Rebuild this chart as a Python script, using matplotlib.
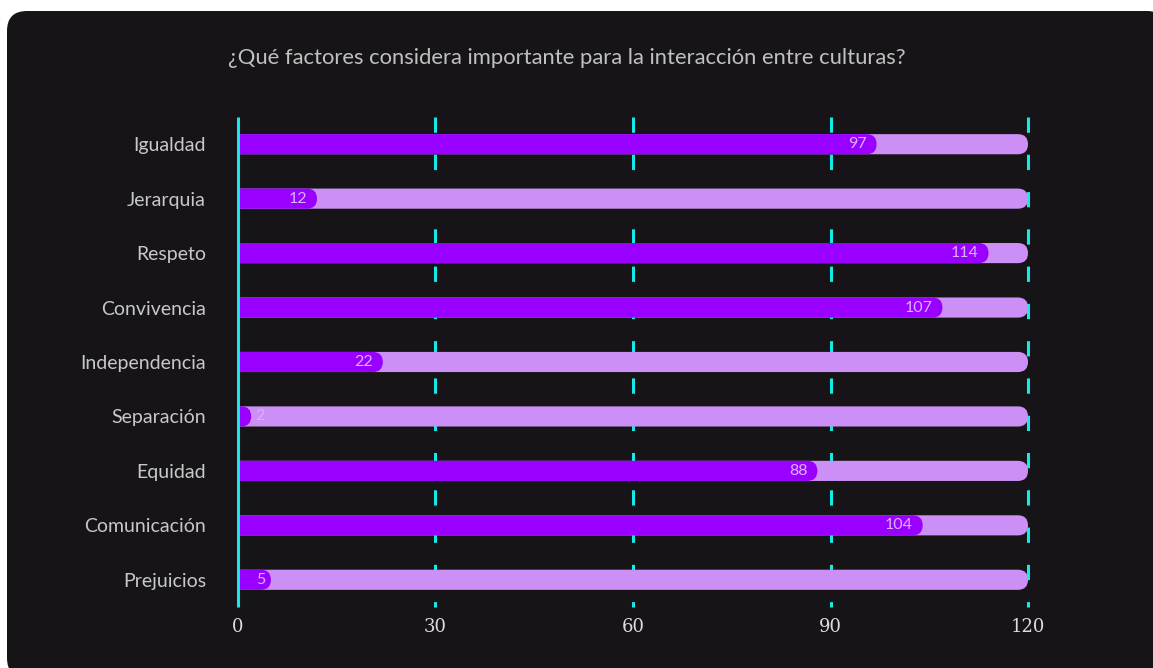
import matplotlib.pyplot as plt
from matplotlib.patches import FancyBboxPatch

# datos
categorias = ['Igualdad', 'Jerarquia', 'Respeto', 'Convivencia', 'Independencia',
              'Separación', 'Equidad', 'Comunicación', 'Prejuicios']
valores = [97, 12, 114, 107, 22, 2, 88, 104, 5]
maximo = 120
ticks = [0, 30, 60, 90, 120]
titulo = '¿Qué factores considera importante para la interacción entre culturas?'

fondo = '#161417'
morado = '#9900ff'
lila = '#cc8ff5'
cian = '#19e8e8'
texto = '#c8c8c8'
fuente = ['Lato', 'DejaVu Sans']

fig = plt.figure(figsize=(11.53, 6.68), dpi=100)
fig.patch.set_facecolor('white')

# tarjeta oscura con esquinas redondeadas (en pulgadas)
tarjeta = FancyBboxPatch((0.07, -0.10), 11.60, 6.67,
                         boxstyle='round,pad=0,rounding_size=0.2',
                         transform=fig.dpi_scale_trans, facecolor=fondo,
                         edgecolor='none', zorder=-5)
fig.patches.append(tarjeta)

ax = fig.add_axes([0.2064, 0.0913, 0.6852, 0.7336])
ax.set_zorder(2)
ax.set_facecolor('none')
ax.set_xlim(0, maximo)
ax.set_ylim(len(categorias) - 0.5, -0.5)
for s in ax.spines.values():
    s.set_visible(False)

# px por unidad, para que el redondeo salga circular
px_x = 0.6852 * 1153 / maximo
px_y = 0.7336 * 668 / len(categorias)
alto = 0.37
radio_px = alto * px_y / 2
radio_x = radio_px / px_x
aspecto = (radio_px / px_y) / radio_x

# lineas de guia discontinuas
for t in ticks[1:]:
    ax.vlines(t, -0.5, len(categorias) - 0.5, colors=cian, linewidth=2.2,
              linestyles=(0, (5.0, 7.2)), zorder=1, clip_on=False)

def barra(y, v, color, z):
    p = FancyBboxPatch((-radio_x, y - alto / 2), v + radio_x, alto,
                       boxstyle='round,pad=0,rounding_size=%f' % radio_x,
                       mutation_aspect=aspecto, facecolor=color,
                       edgecolor='none', zorder=z)
    ax.add_patch(p)

for i, v in enumerate(valores):
    barra(i, maximo, lila, 2)
    barra(i, v, morado, 3)
    xt = max(v - 1.5, 4.1)
    ax.text(xt, i, str(v), ha='right', va='center', color='#d9b2fb',
            fontsize=11.5, family=fuente, zorder=4)

ax.vlines(0, -0.5, len(categorias) - 0.5, colors=cian, linewidth=2.2,
          zorder=5, clip_on=False)

ax.set_yticks(range(len(categorias)))
ax.set_yticklabels(categorias, color=texto, fontsize=14, family=fuente)
ax.set_xticks(ticks)
ax.set_xticklabels([str(t) for t in ticks], color='#dcdcdc', fontsize=13,
                   family='DejaVu Serif')
ax.tick_params(axis='y', length=0, pad=23)
ax.tick_params(axis='x', length=0, pad=8)

fig.text(0.492, 0.913, titulo, ha='center', va='center', color='#c0c0c0',
         fontsize=15.8, family=fuente)

fig.savefig('out.png', dpi=100, facecolor='white')
